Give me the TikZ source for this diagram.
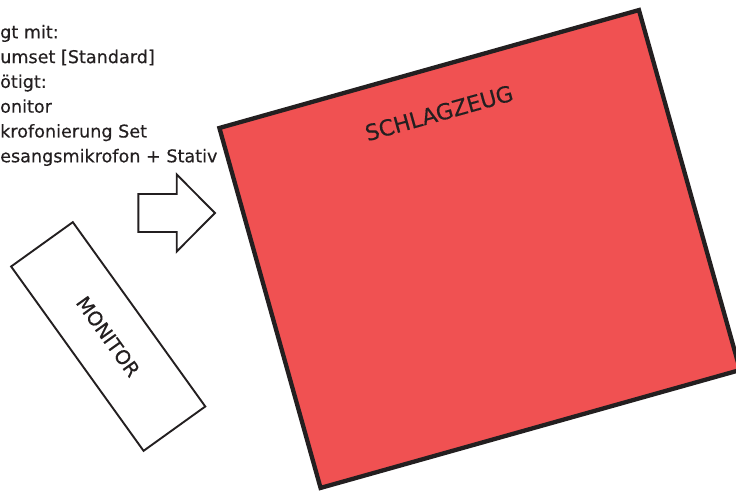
\documentclass[tikz,border=0pt]{standalone}
\usepackage{fontspec}
\setmainfont{DejaVu Sans}[FakeBold=0.4]
\definecolor{ink}{HTML}{231F20}
\definecolor{drumred}{HTML}{F05152}
\begin{document}
\begin{tikzpicture}[x=1pt,y=1pt,
  listtext/.style={anchor=base west, inner sep=0pt, text=ink, font=\fontsize{17.6}{20}\selectfont},
  drumbox/.style={draw=ink, fill=drumred, line width=4.3pt, inner sep=0pt, line join=miter},
  bigtext/.style={inner sep=0pt, text=ink, font=\fontsize{22}{25}\selectfont},
  monbox/.style={draw=ink, fill=white, line width=1.9pt, inner sep=0pt, text=ink, font=\fontsize{19.5}{23}\selectfont},
  arrowshape/.style={draw=ink, fill=white, line width=1.9pt, line join=miter}]
\useasboundingbox (0,0) rectangle (736,492);
% list of equipment
\node[listtext] (l1) at (0,453.7) {gt mit:};
\node[listtext] (l2) at (0,428.9) {umset [Standard]};
\node[listtext] (l3) at (0,404.1) {ötigt:};
\node[listtext] (l4) at (0,379.3) {onitor};
\node[listtext] (l5) at (0,354.5) {krofonierung Set};
\node[listtext] (l6) at (0,329.7) {esangsmikrofon + Stativ};
% drum riser
\node[drumbox, rotate=15.7, minimum width=435.8pt, minimum height=373.9pt] (drums) at (479.75,243) {};
\node[bigtext, rotate=15.7] (drumlabel) at (439,379) {SCHLAGZEUG};
% arrow
\draw[arrowshape] (138.3,298) -- (176.7,298) -- (176.7,317.5) -- (215,279) -- (176.7,240.5) -- (176.7,260) -- (138.3,260) -- cycle;
% monitor
\node[monbox, rotate=-54.3, minimum width=227pt, minimum height=76pt] (monitor) at (108.2,155.5) {MONITOR};
\end{tikzpicture}
\end{document}
